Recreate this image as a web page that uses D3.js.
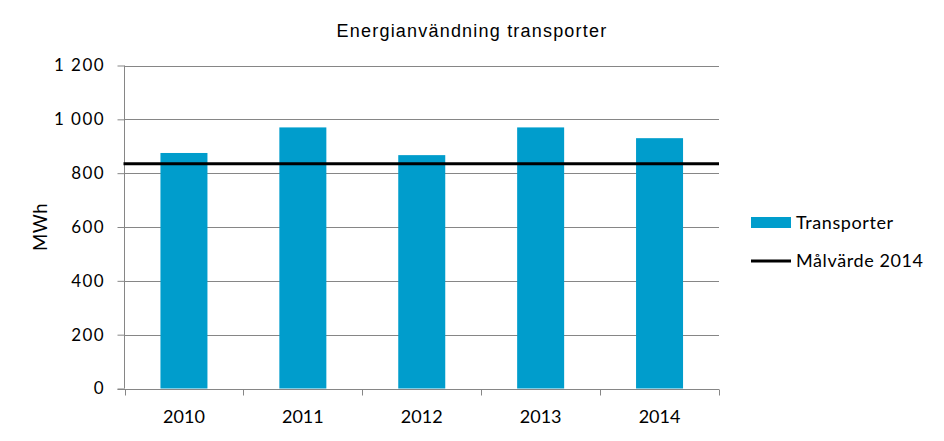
<!DOCTYPE html>
<html><head><meta charset="utf-8">
<script src="https://cdn.jsdelivr.net/npm/d3@7"></script>
<style>body{margin:0;background:#fff}svg{display:block}</style>
</head><body>
<script>
const years = ["2010","2011","2012","2013","2014"];
const transporter = [875, 970, 867, 970, 930];
const targetValue = [835];
const yTicks = [0,200,400,600,800,1000,1200];
const title = "Energianvändning transporter";
const yTitle = "MWh";
const legendLabels = ["Transporter","Målvärde 2014"];

const W=944,H=441;
const m={left:124.5,right:944-719,top:65.5,bottom:441-388.5};
const svg=d3.select("body").append("svg").attr("width",W).attr("height",H);
const xb=d3.scaleBand().domain(years).range([m.left,W-m.right]);
const y=d3.scaleLinear().domain([0,1200]).range([H-m.bottom,m.top]);
const font="Lato, 'Open Sans', sans-serif";
const grey="#868686";

// gridlines
svg.append("g").selectAll("line").data(yTicks.filter(d=>d>0)).join("line")
 .attr("x1",m.left).attr("x2",W-m.right)
 .attr("y1",d=>Math.round(y(d))+0.5).attr("y2",d=>Math.round(y(d))+0.5)
 .attr("stroke",grey).attr("stroke-width",1);

// bars
svg.append("g").selectAll("rect").data(years).join("rect")
 .attr("x",(d)=>xb(d)+xb.bandwidth()/2-23.5).attr("width",47)
 .attr("y",(d,i)=>y(transporter[i])).attr("height",(d,i)=>y(0)-y(transporter[i]))
 .attr("fill","#009DCC");

// y axis
const ya=d3.axisLeft(y).tickValues(yTicks).tickSize(7).tickPadding(14)
 .tickFormat(d=>d3.format(",")(d).replace(",","\u00a0"));
const gy=svg.append("g").attr("transform",`translate(${m.left},0)`).call(ya);
gy.selectAll("path,line").attr("stroke",grey);
gy.select(".domain").attr("d",`M0,${y(1200)}V${y(0)}`);
gy.selectAll("text").attr("font-family",font).attr("font-size",17).attr("letter-spacing",1.4)
 .attr("dx",1.4).attr("fill","#000");

// x axis
const gx=svg.append("g").attr("transform",`translate(0,${Math.round(y(0))+0.5})`);
gx.append("line").attr("x1",m.left-7).attr("x2",W-m.right).attr("stroke",grey);
const bounds=years.map(d=>xb(d)).concat([W-m.right]);
gx.selectAll("line.t").data(bounds).join("line").attr("class","t")
 .attr("x1",d=>Math.round(d)+0.5).attr("x2",d=>Math.round(d)+0.5).attr("y1",0).attr("y2",6).attr("stroke",grey);
gx.selectAll("text").data(years).join("text")
 .attr("x",d=>xb(d)+xb.bandwidth()/2).attr("y",33.5).attr("text-anchor","middle")
 .attr("font-family",font).attr("font-size",18).attr("fill","#000").text(d=>d);

// target line
svg.append("line").attr("x1",m.left-1).attr("x2",W-m.right)
 .attr("y1",y(targetValue[0])).attr("y2",y(targetValue[0]))
 .attr("stroke","#000").attr("stroke-width",3);

// title
svg.append("text").attr("x",472).attr("y",37).attr("text-anchor","middle")
 .attr("font-family","'Liberation Sans', Arial, sans-serif").attr("font-size",18)
 .attr("letter-spacing",1.2).text(title);

// y title
svg.append("text").attr("transform",`translate(46.5,${(y(0)+y(1200))/2}) rotate(-90)`)
 .attr("text-anchor","middle").attr("font-family",font).attr("font-size",18.5).attr("letter-spacing",0.5).text(yTitle);

// legend
const lg=svg.append("g");
lg.append("rect").attr("x",751).attr("y",217).attr("width",40).attr("height",11).attr("fill","#009DCC");
lg.append("text").attr("x",796).attr("y",229).attr("font-family",font).attr("font-size",18).attr("letter-spacing",0.6).text(legendLabels[0]);
lg.append("line").attr("x1",751).attr("x2",791).attr("y1",261).attr("y2",261).attr("stroke","#000").attr("stroke-width",3);
lg.append("text").attr("x",796).attr("y",267).attr("font-family",font).attr("font-size",18).attr("letter-spacing",0.6).text(legendLabels[1]);
</script>
</body></html>
